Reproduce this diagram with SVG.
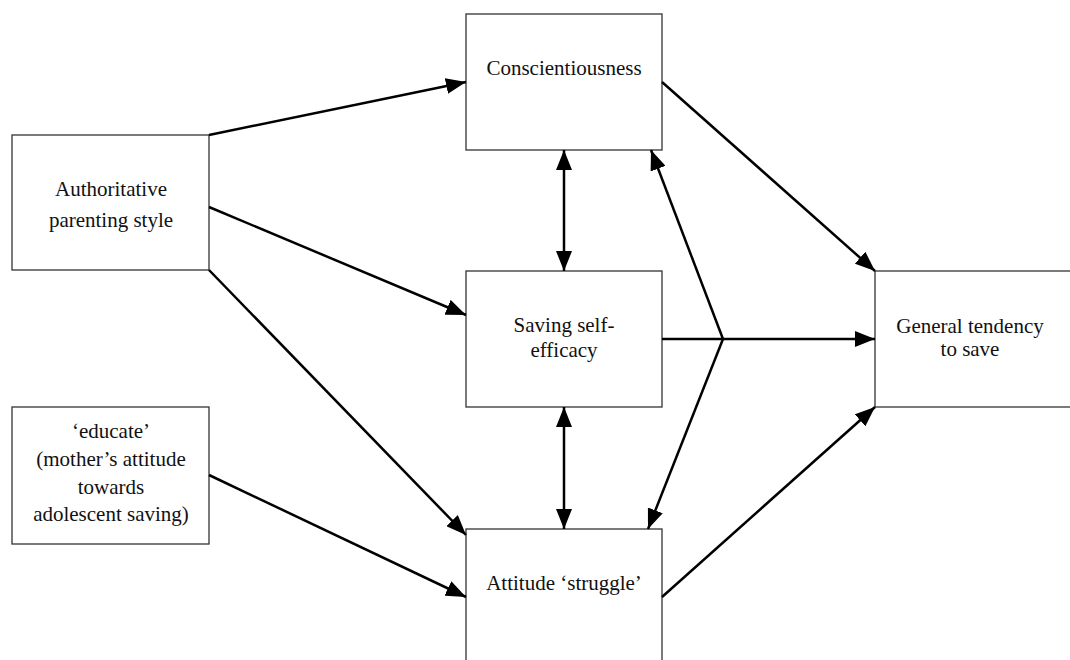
<svg xmlns="http://www.w3.org/2000/svg" width="1070" height="660" viewBox="0 0 1070 660">
<style>
.box{fill:#fff;stroke:#333;stroke-width:1.3}
.t{font-family:"Liberation Serif","Times New Roman",serif;font-size:21px;fill:#111;text-anchor:middle}
.c{stroke:#000;stroke-width:2.5;fill:none}
</style>
<defs>
<marker id="ah" markerUnits="userSpaceOnUse" markerWidth="20" markerHeight="16" refX="20" refY="8" orient="auto-start-reverse">
<path d="M0,0 L20,8 L0,16 z" fill="#000"/>
</marker>
</defs>
<rect width="1070" height="660" fill="#fff"/>
<g id="authoritative">
<rect class="box" x="12" y="135" width="197" height="135"/>
<text class="t" x="111" y="196">Authoritative</text>
<text class="t" x="111" y="227">parenting style</text>
</g>
<g id="educate">
<rect class="box" x="12" y="407" width="197" height="137"/>
<text class="t" x="111" y="438">‘educate’</text>
<text class="t" x="111" y="466">(mother’s attitude</text>
<text class="t" x="111" y="494">towards</text>
<text class="t" x="111" y="521">adolescent saving)</text>
</g>
<g id="conscientiousness">
<rect class="box" x="466" y="14" width="196" height="136"/>
<text class="t" x="564" y="75">Conscientiousness</text>
</g>
<g id="selfefficacy">
<rect class="box" x="466" y="271" width="196" height="136"/>
<text class="t" x="564" y="332">Saving self-</text>
<text class="t" x="564" y="357">efficacy</text>
</g>
<g id="struggle">
<rect class="box" x="466" y="529" width="196" height="150"/>
<text class="t" x="564" y="590">Attitude ‘struggle’</text>
</g>
<g id="tendency">
<rect class="box" x="875" y="271" width="210" height="136"/>
<text class="t" x="970" y="333">General tendency</text>
<text class="t" x="970" y="356">to save</text>
</g>
<g id="connectors">
<line class="c" x1="209" y1="135" x2="466" y2="82" marker-end="url(#ah)"/>
<line class="c" x1="209" y1="207" x2="466" y2="315" marker-end="url(#ah)"/>
<line class="c" x1="209" y1="270" x2="466" y2="535" marker-end="url(#ah)"/>
<line class="c" x1="209" y1="475" x2="466" y2="597" marker-end="url(#ah)"/>
<line class="c" x1="564" y1="150" x2="564" y2="271" marker-start="url(#ah)" marker-end="url(#ah)"/>
<line class="c" x1="564" y1="407" x2="564" y2="529" marker-start="url(#ah)" marker-end="url(#ah)"/>
<line class="c" x1="662" y1="82" x2="875" y2="271" marker-end="url(#ah)"/>
<line class="c" x1="662" y1="597" x2="875" y2="407" marker-end="url(#ah)"/>
<line class="c" x1="662" y1="339" x2="875" y2="339" marker-end="url(#ah)"/>
<line class="c" x1="723" y1="339" x2="651" y2="150" marker-end="url(#ah)"/>
<line class="c" x1="723" y1="339" x2="648" y2="529" marker-end="url(#ah)"/>
</g>
</svg>
